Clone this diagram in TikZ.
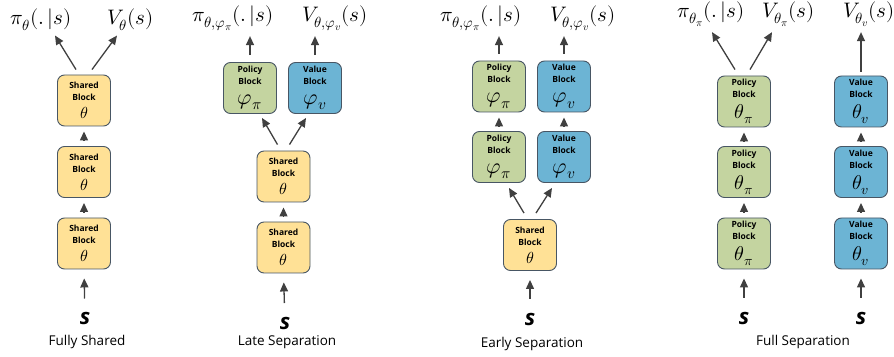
\documentclass[tikz,border=0pt]{standalone}
\usepackage{fontspec}
\usepackage{unicode-math}
\setsansfont{Open Sans}
\setmathfont{Latin Modern Math}
\usetikzlibrary{arrows.meta}
\definecolor{sharedfill}{RGB}{255,225,150}
\definecolor{policyfill}{RGB}{196,212,160}
\definecolor{valuefill}{RGB}{108,180,212}
\definecolor{blkline}{RGB}{72,86,100}
\definecolor{arrgray}{RGB}{64,64,64}
\tikzset{
  blk/.style={draw=blkline, line width=0.9pt, rounded corners=7pt, minimum width=53pt, minimum height=51pt, inner sep=0pt, align=center, font=\sffamily\bfseries\fontsize{8.5}{12}\selectfont},
  shared/.style={blk, fill=sharedfill},
  policy/.style={blk, fill=policyfill},
  value/.style={blk, fill=valuefill},
  arr/.style={-{Triangle[length=9pt,width=8pt]}, line width=1.3pt, draw=arrgray},
  link/.style={arr, shorten <=5pt, shorten >=5pt},
  feed/.style={arr, shorten <=20pt, shorten >=9pt},
  outarr/.style={arr, shorten <=7pt, shorten >=5pt},
  outl/.style={inner sep=0pt, font=\fontsize{21}{21}\selectfont},
  paneltitle/.style={inner sep=0pt, font=\sffamily\fontsize{13.5}{14}\selectfont},
  inp/.style={inner sep=0pt, font=\sffamily\bfseries\itshape\fontsize{22}{22}\selectfont}
}
\newcommand{\blocktxt}[4]{#1\\Block\\[#3]{\fontsize{#2}{#2}\selectfont$#4$}}
\begin{document}
\begin{tikzpicture}[x=1pt,y=1pt]
\useasboundingbox (0,0) rectangle (894,356);
% Fully Shared
\node[shared] (fs1) at (84,255.5) {\blocktxt{Shared}{16}{6pt}{\theta}};
\node[shared] (fs2) at (84,184) {\blocktxt{Shared}{16}{6pt}{\theta}};
\node[shared] (fs3) at (84,112.5) {\blocktxt{Shared}{16}{6pt}{\theta}};
\node[inp] (fss) at (85,37.5) {s};
\node[paneltitle] (fstitle) at (87,14) {Fully Shared};
\node[outl, anchor=base east] (fspi) at (72,331) {$\pi_{\theta}(.\,|s)$};
\node[outl, anchor=base west] (fsV) at (107,331) {$V_{\theta}(s)$};
\draw[feed] (fss.center) -- (fs3.south);
\draw[link] (fs3.north) -- (fs2.south);
\draw[link] (fs2.north) -- (fs1.south);
\draw[arr] ([shift={(-8,5)}]fs1.north) -- ([shift={(-17,-5)}]fspi.south east);
\draw[arr] ([shift={(8,5)}]fs1.north) -- ([shift={(10,-5)}]fsV.south west);
% Late Separation
\node[policy] (lspol) at (250,268) {\blocktxt{Policy}{22}{8pt}{\varphi_\pi}};
\node[value] (lsval) at (315,268) {\blocktxt{Value}{22}{8pt}{\varphi_v}};
\node[shared] (lsh1) at (283.5,179.5) {\blocktxt{Shared}{16}{6pt}{\theta}};
\node[shared] (lsh2) at (283.5,108.5) {\blocktxt{Shared}{16}{6pt}{\theta}};
\node[inp] (lss) at (285,33) {s};
\node[paneltitle] (lstitle) at (287,14) {Late Separation};
\node[outl, anchor=base east] (lspi) at (274,334) {$\pi_{\theta,\varphi_\pi}(.\,|s)$};
\node[outl, anchor=base west] (lsV) at (302,334) {$V_{\theta,\varphi_v}(s)$};
\draw[feed] (lss.center) -- (lsh2.south);
\draw[link] (lsh2.north) -- (lsh1.south);
\draw[arr] ([shift={(-6,6)}]lsh1.north) -- ([shift={(12,-4)}]lspol.south);
\draw[arr] ([shift={(6,6)}]lsh1.north) -- ([shift={(-9,-4)}]lsval.south);
\draw[outarr] (lspol.north) -- (lspol.north |- lspi.south);
\draw[outarr] (lsval.north) -- (lsval.north |- lsV.south);
% Early Separation
\node[policy] (espol1) at (499,269.5) {\blocktxt{Policy}{22}{8pt}{\varphi_\pi}};
\node[value] (esval1) at (564,269.5) {\blocktxt{Value}{22}{8pt}{\varphi_v}};
\node[policy] (espol2) at (499,199) {\blocktxt{Policy}{22}{8pt}{\varphi_\pi}};
\node[value] (esval2) at (564,199) {\blocktxt{Value}{22}{8pt}{\varphi_v}};
\node[shared] (essh) at (530,111) {\blocktxt{Shared}{16}{6pt}{\theta}};
\node[inp] (ess) at (530,37) {s};
\node[paneltitle] (estitle) at (532,12) {Early Separation};
\node[outl, anchor=base east] (espi) at (522,334) {$\pi_{\theta,\varphi_\pi}(.\,|s)$};
\node[outl, anchor=base west] (esV) at (550,334) {$V_{\theta,\varphi_v}(s)$};
\draw[feed] (ess.center) -- (essh.south);
\draw[arr] ([shift={(-6,6)}]essh.north) -- ([shift={(10,-5)}]espol2.south);
\draw[arr] ([shift={(6,6)}]essh.north) -- ([shift={(-12,-5)}]esval2.south);
\draw[link] (espol2.north) -- (espol1.south);
\draw[link] (esval2.north) -- (esval1.south);
\draw[outarr] (espol1.north) -- (espol1.north |- espi.south);
\draw[outarr] (esval1.north) -- (esval1.north |- esV.south);
% Full Separation
\foreach \i/\y in {1/254.5,2/184,3/112.5} {
  \node[policy] (seppol\i) at (744,\y) {\blocktxt{Policy}{20}{6pt}{\theta_\pi}};
  \node[value] (sepval\i) at (861,\y) {\blocktxt{Value}{20}{6pt}{\theta_v}};
}
\node[inp] (seps1) at (744,38) {s};
\node[inp] (seps2) at (861,38) {s};
\node[paneltitle] (septitle) at (803,14) {Full Separation};
\node[outl, anchor=base east] (seppi) at (745,338) {$\pi_{\theta_\pi}(.\,|s)$};
\node[outl, anchor=base west] (sepVp) at (762,338) {$V_{\theta_\pi}(s)$};
\node[outl, anchor=base west] (sepVv) at (843,338) {$V_{\theta_v}(s)$};
\draw[feed] (seps1.center) -- (seppol3.south);
\draw[feed] (seps2.center) -- (sepval3.south);
\foreach \i/\j in {3/2,2/1} {
  \draw[link] (seppol\i.north) -- (seppol\j.south);
  \draw[link] (sepval\i.north) -- (sepval\j.south);
}
\draw[arr] ([shift={(-9,6)}]seppol1.north) -- ([shift={(-33,-5)}]seppi.south east);
\draw[arr] ([shift={(6,6)}]seppol1.north) -- ([shift={(10,-5)}]sepVp.south west);
\draw[outarr, shorten <=4pt] (sepval1.north) -- (sepval1.north |- sepVv.south);
\end{tikzpicture}
\end{document}
